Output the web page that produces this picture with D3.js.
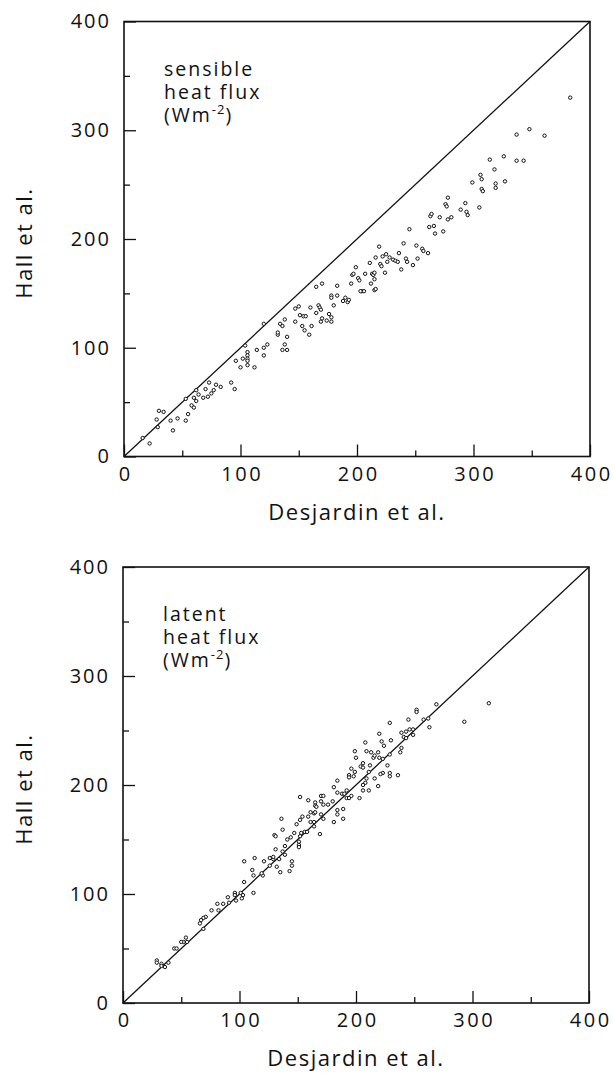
<!DOCTYPE html>
<html>
<head>
<meta charset="utf-8">
<script src="https://cdn.jsdelivr.net/npm/d3@7"></script>
<style>
  body { margin: 0; background: #fff; }
  text { font-family: "Open Sans", sans-serif; fill: #111; }
</style>
</head>
<body>
<div id="chart"></div>
<script>
// Data
const majorTicks = [0, 100, 200, 300, 400]
const minorTicks = [50, 150, 250, 350]

// sensible heat flux, [Desjardin, Hall]
const sensiblePoints = [
  [16,17],[22,12],[28,34],[30,42],[34,41],[29,27],[40,33],[42,24],[46,35],[53,33],
  [55,39],[53,53],[58,47],[60,45],[62,61],[64,57],[62,51],[60,54],[68,54],[70,62],
  [72,55],[73,68],[75,58],[77,61],[79,66],[83,64],[92,68],[95,62],[96,88],[100,82],
  [102,90],[104,102],[106,96],[106,93],[106,90],[106,88],[106,84],[112,82],[114,98],[120,93],
  [120,100],[123,103],[120,122],[132,112],[132,114],[134,122],[136,120],[138,126],[138,103],[136,98],
  [140,98],[140,110],[147,136],[150,138],[147,124],[151,130],[154,129],[156,129],[153,120],[155,116],
  [159,112],[160,137],[161,120],[165,132],[167,139],[168,137],[169,135],[169,124],[170,127],[174,125],
  [176,131],[178,148],[178,146],[178,124],[178,128],[180,139],[183,148],[188,143],[190,146],[192,142],
  [193,144],[204,152],[206,152],[215,153],[165,156],[170,159],[183,157],[195,159],[196,167],[197,168],
  [199,174],[201,164],[202,162],[203,152],[207,168],[211,178],[212,159],[213,168],[214,167],[215,169],
  [215,163],[216,154],[216,183],[219,193],[220,177],[221,175],[222,184],[224,169],[225,186],[226,179],
  [228,183],[231,181],[233,180],[235,179],[236,187],[238,172],[240,196],[242,182],[243,179],[245,209],
  [248,176],[251,194],[252,182],[256,191],[257,189],[261,187],[262,211],[263,221],[264,223],[266,212],
  [267,205],[271,220],[274,207],[276,232],[277,230],[278,238],[278,218],[281,220],[289,227],[293,233],
  [294,225],[295,222],[299,252],[305,229],[306,259],[307,255],[307,246],[308,244],[314,273],[318,264],
  [319,247],[319,251],[326,276],[327,253],[337,296],[337,272],[343,272],[348,301],[361,295],[383,330]
]

// latent heat flux, [Desjardin, Hall]
const latentPoints = [
  [314,275],[293,258],[269,274],[263,253],[262,261],[258,260],[252,269],[252,267],[245,260],[246,251],
  [249,251],[249,246],[239,248],[243,249],[241,244],[243,243],[229,257],[230,241],[229,228],[239,234],
  [238,230],[220,247],[222,240],[224,236],[219,230],[223,224],[208,239],[209,231],[213,230],[215,225],
  [216,227],[220,225],[227,218],[229,211],[223,211],[221,210],[236,209],[229,208],[199,231],[200,225],
  [206,220],[212,218],[204,217],[206,216],[211,212],[196,215],[199,212],[194,209],[194,207],[198,208],
  [209,206],[208,202],[206,200],[211,195],[216,206],[219,199],[203,188],[206,195],[184,204],[181,198],
  [188,192],[190,192],[192,195],[192,188],[194,188],[196,190],[184,193],[184,177],[184,173],[189,178],
  [189,169],[181,166],[176,182],[180,185],[170,190],[172,190],[170,185],[172,182],[165,184],[165,181],
  [166,180],[159,186],[152,189],[161,175],[164,174],[165,175],[159,171],[154,171],[152,168],[170,173],
  [172,169],[161,166],[164,166],[136,169],[137,159],[149,164],[153,156],[156,157],[164,162],[169,155],
  [147,156],[144,152],[130,154],[158,157],[152,153],[141,150],[151,148],[151,145],[151,143],[131,153],
  [139,144],[137,139],[139,136],[145,130],[145,126],[143,121],[135,120],[132,125],[134,132],[126,133],
  [129,132],[129,134],[131,141],[126,126],[121,130],[113,133],[111,122],[112,117],[120,117],[119,119],
  [104,130],[104,111],[112,101],[101,101],[103,99],[102,96],[96,101],[96,99],[97,94],[90,97],
  [86,91],[91,92],[81,91],[82,85],[76,85],[71,79],[69,78],[67,76],[66,73],[69,68],
  [54,60],[55,56],[52,56],[50,56],[44,50],[46,50],[39,37],[36,33],[33,36],[33,34],
  [29,39],[29,37]
]

const xTitle = 'Desjardin et al.'
const yTitle = 'Hall et al.'

// Dimensions
const width = 613
const height = 1074

const svg = d3.select('#chart')
  .append('svg')
  .attr('width', width)
  .attr('height', height)

function panel(points, lines, box) {
  const xScale = d3.scaleLinear()
    .domain([0, 400])
    .range([box.left, box.right])

  const yScale = d3.scaleLinear()
    .domain([0, 400])
    .range([box.bottom, box.top])

  const g = svg.append('g')

  // Axes (ticks point inward)
  const yAxis = g.append('g')
    .attr('transform', `translate(${box.left},0)`)
    .call(d3.axisLeft(yScale).tickValues(majorTicks).tickSize(-12).tickPadding(13))
  yAxis.select('.domain').remove()
  yAxis.selectAll('text')
    .style('font-size', '20px')
    .style('letter-spacing', '2px')

  g.append('g')
    .attr('transform', `translate(${box.left},0)`)
    .call(d3.axisLeft(yScale).tickValues(minorTicks).tickSize(-6).tickFormat(''))
    .select('.domain').remove()

  const xAxis = g.append('g')
    .attr('transform', `translate(0,${box.bottom})`)
    .call(d3.axisBottom(xScale).tickValues(majorTicks).tickSize(-12).tickPadding(10))
  xAxis.select('.domain').remove()
  xAxis.selectAll('text')
    .style('font-size', '20px')
    .style('letter-spacing', '2.5px')
    .attr('dx', '1.2px')

  g.append('g')
    .attr('transform', `translate(0,${box.bottom})`)
    .call(d3.axisBottom(xScale).tickValues(minorTicks).tickSize(-6).tickFormat(''))
    .select('.domain').remove()

  g.selectAll('.tick line')
    .attr('stroke', '#111')
    .attr('stroke-width', 1.3)

  // Frame
  g.append('rect')
    .attr('x', box.left)
    .attr('y', box.top)
    .attr('width', box.right - box.left)
    .attr('height', box.bottom - box.top)
    .attr('fill', 'none')
    .attr('stroke', '#111')
    .attr('stroke-width', 1.6)

  // 1:1 line
  g.append('line')
    .attr('x1', xScale(0))
    .attr('y1', yScale(0))
    .attr('x2', xScale(400))
    .attr('y2', yScale(400))
    .attr('stroke', '#111')
    .attr('stroke-width', 1.3)

  // Points
  g.append('g')
    .selectAll('circle')
    .data(points)
    .join('circle')
    .attr('cx', d => xScale(d[0]))
    .attr('cy', d => yScale(d[1]))
    .attr('r', 1.7)
    .attr('fill', '#fff')
    .attr('stroke', '#111')
    .attr('stroke-width', 1)

  // Label in the corner
  const label = g.append('text')
    .attr('x', box.left + 40)
    .attr('y', box.top + 54)
    .style('font-size', '19.5px')
    .style('letter-spacing', '2px')

  label.append('tspan').text(lines[0])
  label.append('tspan')
    .attr('x', box.left + 40)
    .attr('dy', 23)
    .text(lines[1])
  label.append('tspan')
    .attr('x', box.left + 40)
    .attr('dy', 23)
    .text('(Wm')
  label.append('tspan')
    .attr('dy', -8)
    .style('font-size', '13px')
    .style('letter-spacing', '1px')
    .text('-2')
  label.append('tspan')
    .attr('dy', 8)
    .text(')')

  // Axis titles
  g.append('text')
    .attr('x', (box.left + box.right) / 2)
    .attr('y', box.bottom + 63)
    .attr('text-anchor', 'middle')
    .style('font-size', '22px')
    .style('letter-spacing', '1.5px')
    .text(xTitle)

  g.append('text')
    .attr('transform', `translate(32,${(box.top + box.bottom) / 2 + 4}) rotate(-90)`)
    .attr('text-anchor', 'middle')
    .style('font-size', '22px')
    .style('letter-spacing', '1.5px')
    .text(yTitle)
}

panel(sensiblePoints, ['sensible', 'heat flux'], { left: 124, right: 590, top: 21.5, bottom: 456.5 })
panel(latentPoints, ['latent', 'heat flux'], { left: 123, right: 589, top: 567, bottom: 1003 })
</script>
</body>
</html>
